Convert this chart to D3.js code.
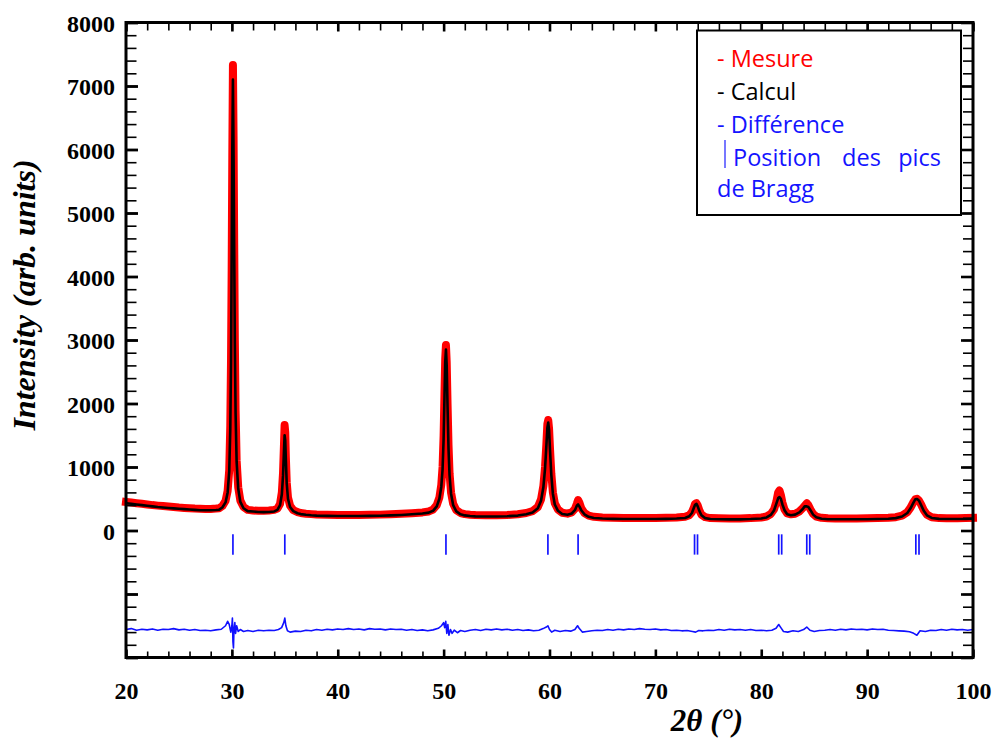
<!DOCTYPE html>
<html><head><meta charset="utf-8">
<script src="https://cdn.jsdelivr.net/npm/d3@7"></script>
<style>body{margin:0;background:#fff}svg{display:block}</style>
</head><body>
<svg id="chart" width="997" height="738"></svg>
<script>
// ---- data ----
const twoTheta = [20,20.5,21,21.5,22,22.5,23,23.5,24,24.5,25,25.5,26,26.5,27,27.5,28,28.5,28.8,29.1,29.4,29.6,29.75,29.85,29.92,29.98,30.04,30.1,30.16,30.22,30.28,30.35,30.45,30.6,30.8,31.1,31.5,32,32.5,33,33.5,34,34.3,34.55,34.72,34.83,34.92,34.98,35.04,35.1,35.18,35.3,35.5,35.8,36.2,36.5,37,37.5,38,39,40,41,42,43,44,45,46,47,48,48.6,49,49.35,49.6,49.78,49.9,50,50.08,50.15,50.22,50.29,50.37,50.46,50.56,50.7,50.9,51.2,51.6,52,52.5,53,54,55,56,57,57.8,58.4,58.9,59.2,59.42,59.58,59.7,59.8,59.88,59.96,60.05,60.17,60.32,60.5,60.8,61.2,61.7,62.1,62.4,62.58,62.7,62.82,63,63.3,63.7,64.2,65,66,67,68,69,70,71,72,72.8,73.2,73.45,73.62,73.75,73.88,74,74.15,74.35,74.7,75.2,76,77,78,79,80,80.5,80.9,81.2,81.42,81.6,81.72,81.85,82,82.2,82.45,82.8,83.2,83.6,83.9,84.1,84.3,84.45,84.65,84.9,85.2,85.7,86.3,87,88,89,90,91,92,92.7,93.3,93.8,94.1,94.35,94.55,94.72,94.9,95.1,95.35,95.65,96.1,96.8,97.5,98.5,99.3,100];
const intensityObs = [450,440,430,420,410,400,392,385,378,370,362,356,350,345,342,340,340,345,350,385,465,625,950,1650,2700,4100,5900,7330,6200,4500,3000,1900,1100,680,470,370,325,315,310,310,315,325,345,420,600,900,1350,1660,1550,1150,760,520,390,320,290,275,265,258,252,248,245,245,245,248,250,255,262,272,285,300,330,400,520,720,1000,1500,2150,2700,2920,2650,2000,1350,900,600,420,320,275,258,248,243,240,240,245,255,275,305,370,490,700,1000,1350,1680,1740,1600,1280,900,600,430,330,280,265,285,340,420,480,440,350,275,235,215,205,200,198,197,197,198,200,205,215,240,290,355,420,430,395,320,250,210,195,192,190,190,195,205,220,260,330,450,600,630,560,440,330,270,255,265,300,350,390,430,400,330,260,220,200,192,190,190,190,192,195,200,210,235,290,360,440,490,500,470,410,320,250,210,195,192,192,195,198];
const intensityCalc = [430,420,410,400,390,380,370,362,355,348,342,336,330,325,320,318,318,322,328,362,442,600,930,1600,2650,4300,6000,7100,5900,4400,2950,1850,1080,660,450,350,305,298,292,290,292,300,325,400,570,860,1250,1500,1420,1100,740,500,370,305,272,258,248,240,235,230,228,228,228,230,232,238,245,255,268,282,310,380,500,690,960,1450,2100,2650,2850,2600,1950,1300,870,580,400,300,255,238,228,223,220,220,225,235,255,285,350,470,680,980,1320,1620,1700,1580,1260,880,580,410,310,260,248,268,320,390,410,380,320,255,215,198,188,183,180,180,180,181,183,188,198,225,275,350,405,420,380,310,240,195,180,177,175,175,180,190,205,245,315,420,510,525,500,410,320,255,240,250,285,335,380,380,370,320,250,208,186,178,176,176,177,178,180,185,195,220,275,350,430,490,495,470,400,310,240,198,183,180,180,182,184];
const diffTheta = [20,20.5,21,21.5,22,22.5,23,23.5,24,24.5,25,25.5,26,26.5,27,27.5,28,28.5,29,29.4,29.6,29.75,29.9,30,30.05,30.1,30.15,30.2,30.28,30.35,30.45,30.6,30.8,31.1,31.5,32,32.5,33,33.5,34,34.4,34.7,34.9,35,35.1,35.25,35.5,36,36.5,37,37.5,38,38.5,39,39.5,40,40.5,41,41.5,42,42.5,43,43.5,44,44.5,45,45.5,46,46.5,47,47.5,48,48.5,49,49.5,49.8,50,50.1,50.2,50.3,50.4,50.5,50.65,50.8,51,51.3,51.6,52,52.5,53,53.5,54,54.5,55,55.5,56,56.5,57,57.5,58,58.5,59,59.4,59.7,59.85,60,60.2,60.5,61,61.5,62,62.4,62.65,62.8,63.1,63.5,64,64.5,65,65.5,66,66.5,67,67.5,68,68.5,69,69.5,70,70.5,71,71.5,72,72.5,73,73.5,73.8,74.1,74.5,75,75.5,76,76.5,77,77.5,78,78.5,79,79.5,80,80.5,81,81.4,81.65,81.85,82.1,82.5,83,83.5,84,84.3,84.6,85,85.5,86,86.5,87,87.5,88,88.5,89,89.5,90,90.5,91,91.5,92,92.5,93,93.5,94,94.4,94.7,95,95.5,96,96.5,97,97.5,98,98.5,99,99.5,100];
const diffValues = [-1560,-1545,-1570,-1555,-1565,-1550,-1570,-1555,-1560,-1545,-1565,-1555,-1570,-1560,-1575,-1570,-1580,-1565,-1555,-1500,-1430,-1480,-1600,-1500,-1380,-1750,-1850,-1550,-1450,-1620,-1500,-1590,-1560,-1590,-1575,-1590,-1570,-1580,-1570,-1575,-1560,-1530,-1450,-1380,-1500,-1580,-1600,-1585,-1590,-1570,-1580,-1560,-1570,-1555,-1565,-1550,-1560,-1545,-1560,-1550,-1565,-1545,-1555,-1550,-1565,-1550,-1560,-1555,-1570,-1560,-1575,-1565,-1580,-1565,-1540,-1500,-1450,-1530,-1430,-1620,-1480,-1650,-1560,-1620,-1570,-1610,-1575,-1590,-1570,-1560,-1575,-1555,-1565,-1550,-1565,-1555,-1570,-1560,-1575,-1565,-1580,-1570,-1545,-1520,-1500,-1560,-1600,-1570,-1590,-1575,-1585,-1560,-1500,-1540,-1600,-1590,-1580,-1570,-1575,-1560,-1570,-1555,-1565,-1550,-1560,-1545,-1555,-1560,-1550,-1565,-1560,-1575,-1570,-1580,-1575,-1590,-1600,-1575,-1580,-1570,-1575,-1560,-1570,-1555,-1565,-1560,-1570,-1560,-1575,-1570,-1580,-1570,-1540,-1480,-1530,-1590,-1600,-1580,-1590,-1560,-1520,-1570,-1590,-1575,-1570,-1560,-1570,-1555,-1565,-1550,-1560,-1555,-1565,-1550,-1560,-1555,-1570,-1575,-1580,-1585,-1595,-1620,-1650,-1580,-1590,-1570,-1575,-1560,-1570,-1555,-1565,-1560,-1570,-1560];
const braggPositions = [30.1,35.0,50.22,59.85,62.7,73.7,73.98,81.65,81.93,84.3,84.58,94.6,94.9];
const braggTickRange = [-60,-380];
const xTickValues = [20,30,40,50,60,70,80,90,100];
const yTickLabels = [0,1000,2000,3000,4000,5000,6000,7000,8000];
const legendLabels = ["- Mesure","- Calcul","- Différence"];
const legendColors = ["#ff0000","#000000","#1414ff"];
const legendBragg = [["Position","des","pics"],["de Bragg"]];

// ---- layout ----
const svg = d3.select("#chart");
const L = 126, R = 973, T = 22.5, B = 657.5;
const x = d3.scaleLinear().domain([20,100]).range([L,R]);
const y = d3.scaleLinear().domain([-2000,8000]).range([B,T]);

const xMinor = d3.range(20,100.001,2);
const yMajor = d3.range(-2000,8000.001,1000);
const yMinor = d3.range(-2000,8000.001,200);

const serif = "'Liberation Serif','Times New Roman',serif";

// plot curves
const obsLine = d3.line().x((d,i)=>x(twoTheta[i])).y(d=>y(d));
svg.append("path").datum(intensityObs).attr("d",obsLine)
  .attr("fill","none").attr("stroke","#ff0000").attr("stroke-width",8)
  .attr("stroke-linejoin","round").attr("stroke-linecap","square");
svg.append("path").datum(intensityCalc).attr("d",obsLine)
  .attr("fill","none").attr("stroke","#000").attr("stroke-width",2.6)
  .attr("stroke-linejoin","round");
const diffLine = d3.line().x((d,i)=>x(diffTheta[i])).y(d=>y(d));
svg.append("path").datum(diffValues).attr("d",diffLine)
  .attr("fill","none").attr("stroke","#1010ff").attr("stroke-width",1.6)
  .attr("stroke-linejoin","round");

// bragg ticks
svg.append("g").selectAll("line").data(braggPositions).join("line")
  .attr("x1",d=>x(d)).attr("x2",d=>x(d))
  .attr("y1",y(braggTickRange[0])).attr("y2",y(braggTickRange[1]))
  .attr("stroke","#1414ff").attr("stroke-width",1.7);

// inward ticks on all four sides
function tickAxis(axis, tr, sw){
  const g = svg.append("g").attr("transform",tr).call(axis);
  g.select(".domain").remove();
  g.selectAll("text").remove();
  g.selectAll("line").attr("stroke","#000").attr("stroke-width",sw);
  return g;
}
// left
tickAxis(d3.axisRight(y).tickValues(yMinor).tickSize(10.5), `translate(${L},0)`, 1.6);
tickAxis(d3.axisRight(y).tickValues(yMajor).tickSize(12), `translate(${L},0)`, 2.8);
// right
tickAxis(d3.axisLeft(y).tickValues(yMinor).tickSize(10), `translate(${R},0)`, 1.6);
tickAxis(d3.axisLeft(y).tickValues(yMajor).tickSize(12), `translate(${R},0)`, 2.6);
// bottom
tickAxis(d3.axisTop(x).tickValues(xMinor).tickSize(6), `translate(0,${B})`, 1.6);
tickAxis(d3.axisTop(x).tickValues(xTickValues).tickSize(8), `translate(0,${B})`, 2.6);
// top
tickAxis(d3.axisBottom(x).tickValues(xMinor).tickSize(8), `translate(0,${T})`, 1.6);
tickAxis(d3.axisBottom(x).tickValues(xTickValues).tickSize(9), `translate(0,${T})`, 2.6);

// frame
svg.append("rect").attr("x",L).attr("y",T).attr("width",R-L).attr("height",B-T)
  .attr("fill","none").attr("stroke","#000").attr("stroke-width",3);

// tick labels
const yLab = svg.append("g").attr("transform",`translate(${L},0)`)
  .call(d3.axisLeft(y).tickValues(yTickLabels).tickSize(0).tickPadding(11).tickFormat(d3.format("d")));
yLab.select(".domain").remove();
yLab.selectAll("text").attr("font-family",serif).attr("font-weight","bold")
  .attr("font-size",24).attr("fill","#000").attr("dy","0.37em");
const xLab = svg.append("g").attr("transform",`translate(0,${B})`)
  .call(d3.axisBottom(x).tickValues(xTickValues).tickSize(0).tickFormat(d3.format("d")));
xLab.select(".domain").remove();
xLab.selectAll("text").attr("font-family",serif).attr("font-weight","bold")
  .attr("font-size",24).attr("fill","#000").attr("y",41.5).attr("dy",0);

// axis titles
svg.append("text").attr("transform","translate(35,295) rotate(-90)")
  .attr("text-anchor","middle").attr("font-family",serif).attr("font-weight","bold")
  .attr("font-style","italic").attr("font-size",32).text("Intensity (arb. units)");
svg.append("text").attr("x",707).attr("y",731).attr("text-anchor","middle")
  .attr("font-family",serif).attr("font-weight","bold").attr("font-style","italic")
  .attr("font-size",31).text("2θ (°)");

// legend
const lg = svg.append("g");
lg.append("rect").attr("x",697).attr("y",30.5).attr("width",264).attr("height",184.5)
  .attr("fill","#fff").attr("stroke","#000").attr("stroke-width",2);
const sans = "'Open Sans','Noto Sans',sans-serif";
legendLabels.forEach((t,i)=>{
  lg.append("text").attr("x",717).attr("y",67+i*33).attr("font-family",sans)
    .attr("font-size",23.5).attr("fill",legendColors[i]).text(t);
});
lg.append("line").attr("x1",725).attr("x2",725).attr("y1",140).attr("y2",168)
  .attr("stroke","#4a4aff").attr("stroke-width",1.5);
const bt = lg.append("text").attr("y",166).attr("font-family",sans)
  .attr("font-size",23.5).attr("fill","#1414ff");
bt.append("tspan").attr("x",733).text(legendBragg[0][0]);
bt.append("tspan").attr("x",842).text(" "+legendBragg[0][1]).attr("dx",-6);
bt.append("tspan").attr("x",941).attr("text-anchor","end").text(legendBragg[0][2]);
lg.append("text").attr("x",717).attr("y",197).attr("font-family",sans)
  .attr("font-size",23.5).attr("fill","#1414ff").text(legendBragg[1][0]);
</script>
</body></html>
